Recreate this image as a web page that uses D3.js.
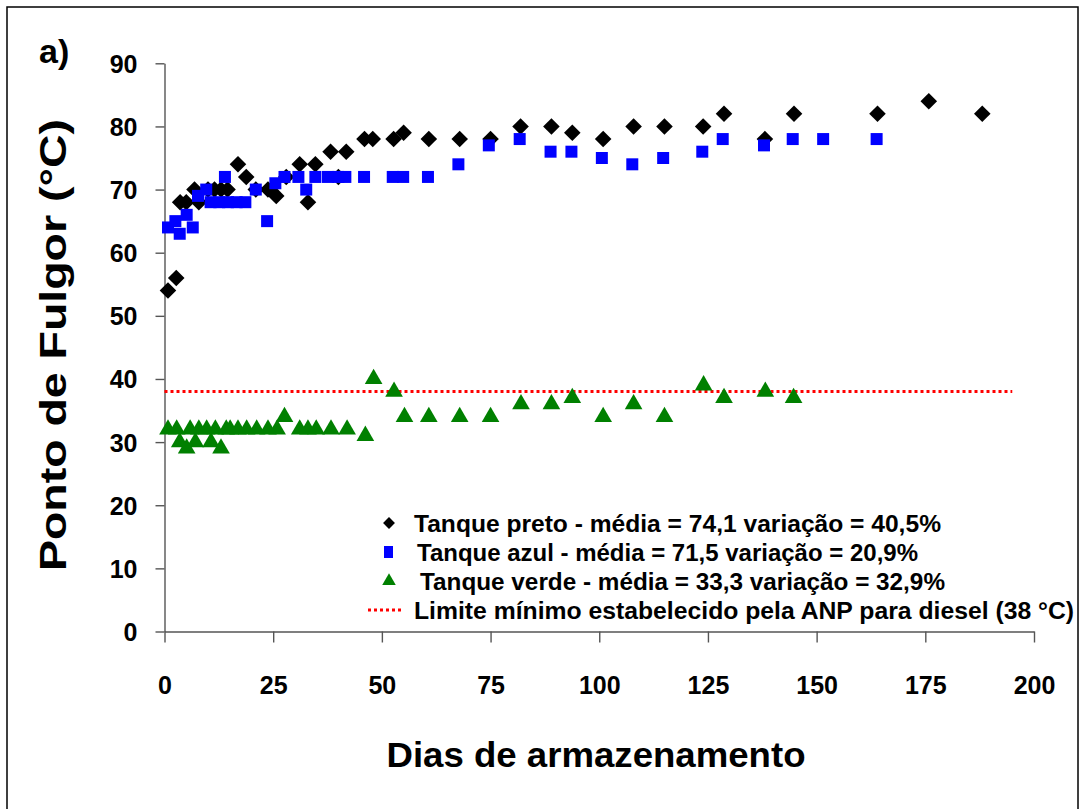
<!DOCTYPE html>
<html>
<head>
<meta charset="utf-8">
<script src="https://cdn.jsdelivr.net/npm/d3@7"></script>
<style>
  html, body { margin: 0; padding: 0; background: #fff; }
  svg { display: block; font-family: "Liberation Sans", Arial, sans-serif; font-weight: bold; }
</style>
</head>
<body>
<svg id="chart" width="1085" height="809"></svg>
<script>
// ---- Data ----
const pretoDays = [0.8, 2.7, 3.6, 5.0, 6.9, 7.9, 10.0, 11.5, 13.0, 14.5, 16.9, 18.8, 21.0, 23.8, 25.7, 28.0, 31.1, 33.0, 34.7, 38.2, 40.0, 41.8, 46.0, 47.9, 52.7, 55.0, 60.8, 67.9, 75.0, 81.9, 89.0, 93.8, 100.9, 107.9, 115.0, 123.9, 128.7, 138.1, 144.8, 164.0, 175.8, 188.1];
const pretoVals = [54, 56, 68, 68, 70, 68, 70, 70, 70, 70, 74, 72, 70, 70, 69, 72, 74, 68, 74, 76, 72, 76, 78, 78, 78, 79, 78, 78, 78, 80, 80, 79, 78, 80, 80, 80, 82, 78, 82, 82, 84, 82];

const azulDays = [0.8, 2.5, 3.5, 5.1, 6.5, 7.7, 9.6, 10.6, 12.6, 14.6, 16.6, 18.6, 13.9, 21.0, 23.6, 25.5, 27.6, 30.8, 32.6, 34.7, 37.6, 40.0, 41.6, 45.9, 52.5, 54.9, 60.6, 67.6, 74.6, 81.7, 88.8, 93.6, 100.6, 107.6, 114.7, 123.7, 128.4, 137.9, 144.5, 151.5, 163.8];
const azulVals = [64, 65, 63, 66, 64, 69, 70, 68, 68, 68, 68, 68, 72, 70, 65, 71, 72, 72, 70, 72, 72, 72, 72, 72, 72, 72, 72, 74, 77, 78, 76, 76, 75, 74, 75, 76, 78, 77, 78, 78, 78];

const verdeDays = [0.8, 2.8, 3.5, 5.1, 5.9, 7.1, 7.9, 9.7, 10.7, 11.7, 13.0, 14.2, 15.1, 16.9, 18.9, 21.2, 23.8, 25.9, 27.6, 31.1, 33.0, 34.9, 38.3, 42.0, 46.2, 48.1, 52.8, 55.2, 60.8, 67.9, 75.0, 82.0, 89.0, 93.8, 100.9, 107.9, 115.0, 124.0, 128.7, 138.2, 144.7];
const verdeVals = [32, 32, 30, 29, 32, 30, 32, 32, 30, 32, 29, 32, 32, 32, 32, 32, 32, 32, 34, 32, 32, 32, 32, 32, 31, 40, 38, 34, 34, 34, 34, 36, 36, 37, 34, 36, 34, 39, 37, 38, 37];

const limitValue = 38;
const limitDays = [0, 195];

const xTicks = [0, 25, 50, 75, 100, 125, 150, 175, 200];
const yTicks = [0, 10, 20, 30, 40, 50, 60, 70, 80, 90];

const legendLabels = [
  "Tanque preto - média = 74,1 variação = 40,5%",
  "Tanque azul - média = 71,5 variação = 20,9%",
  "Tanque verde - média = 33,3 variação = 32,9%",
  "Limite mínimo estabelecido pela ANP para diesel (38 °C)"
];

// ---- Layout ----
const svg = d3.select("#chart");
const x = d3.scaleLinear().domain([0, 200]).range([164.5, 1034]);
const y = d3.scaleLinear().domain([0, 90]).range([631.5, 63.3]);

// outer frame
svg.append("rect").attr("x", 7).attr("y", 7).attr("width", 1071).attr("height", 810)
  .attr("fill", "none").attr("stroke", "#000").attr("stroke-width", 1.5);

// "a)"
svg.append("text").attr("x", 39).attr("y", 63).attr("font-size", 34).text("a)");

// axes
const axisColor = "#555";
const yAxis = svg.append("g").attr("transform", `translate(${x(0)},0)`)
  .call(d3.axisLeft(y).tickValues(yTicks).tickSize(9).tickSizeOuter(0).tickPadding(18));
const xAxis = svg.append("g").attr("transform", `translate(0,${y(0)})`)
  .call(d3.axisBottom(x).tickValues(xTicks).tickSize(11).tickSizeOuter(0));
[yAxis, xAxis].forEach(g => {
  g.selectAll("path.domain").attr("stroke", axisColor).attr("stroke-width", 1.4);
  g.selectAll(".tick line").attr("stroke", axisColor).attr("stroke-width", 1.4);
  g.selectAll("text").attr("fill", "#000").attr("font-size", 25)
    .attr("font-family", "Liberation Sans, Arial, sans-serif").attr("font-weight", "bold");
});
yAxis.selectAll("text").attr("dy", "0.36em");
xAxis.selectAll("text").attr("y", 45).attr("dy", "0.71em");

// axis titles
svg.append("text").attr("x", 596).attr("y", 767).attr("text-anchor", "middle")
  .attr("font-size", 35).attr("textLength", 419).attr("lengthAdjust", "spacingAndGlyphs")
  .text("Dias de armazenamento");
svg.append("text").attr("transform", "translate(66,345) rotate(-90)").attr("text-anchor", "middle")
  .attr("font-size", 36).attr("textLength", 452).attr("lengthAdjust", "spacingAndGlyphs")
  .text("Ponto de Fulgor (°C)");

// limit line
svg.append("line").attr("x1", x(limitDays[0])).attr("x2", x(limitDays[1]))
  .attr("y1", y(limitValue)).attr("y2", y(limitValue))
  .attr("stroke", "#ff0000").attr("stroke-width", 3).attr("stroke-dasharray", "3,3");

// markers
const diamond = d3.symbol().type(d3.symbolDiamond2).size(175);
const square = d3.symbol().type(d3.symbolSquare).size(144);
const triangle = d3.symbol().type(d3.symbolTriangle).size(135);

function drawSeries(days, vals, sym, color) {
  svg.append("g").selectAll("path").data(days.map((d, i) => [d, vals[i]]))
    .join("path")
    .attr("transform", d => `translate(${x(d[0])},${y(d[1])})`)
    .attr("d", sym).attr("fill", color);
}
drawSeries(pretoDays, pretoVals, diamond, "#000");
drawSeries(azulDays, azulVals, square, "#0000ff");
drawSeries(verdeDays, verdeVals, triangle, "#008000");

// legend
const legY = [523, 552, 581, 610];
const legTextX = [414, 417, 420, 414];
const legLen = [527, 501, 525, 660];
const leg = svg.append("g");
leg.append("path").attr("transform", `translate(389,${legY[0]})`)
  .attr("d", d3.symbol().type(d3.symbolDiamond2).size(90)).attr("fill", "#000");
leg.append("rect").attr("x", 384).attr("y", legY[1] - 6).attr("width", 9).attr("height", 12).attr("fill", "#0000ff");
leg.append("path").attr("transform", `translate(389,${legY[2]})`)
  .attr("d", d3.symbol().type(d3.symbolTriangle).size(80)).attr("fill", "#008000");
leg.append("line").attr("x1", 368).attr("x2", 402).attr("y1", legY[3]).attr("y2", legY[3])
  .attr("stroke", "#ff0000").attr("stroke-width", 3).attr("stroke-dasharray", "3,3");
legendLabels.forEach((t, i) => {
  leg.append("text").attr("x", legTextX[i]).attr("y", legY[i] + 8.5)
    .attr("font-size", 23.5).attr("textLength", legLen[i]).attr("lengthAdjust", "spacingAndGlyphs")
    .text(t);
});
</script>
</body>
</html>
